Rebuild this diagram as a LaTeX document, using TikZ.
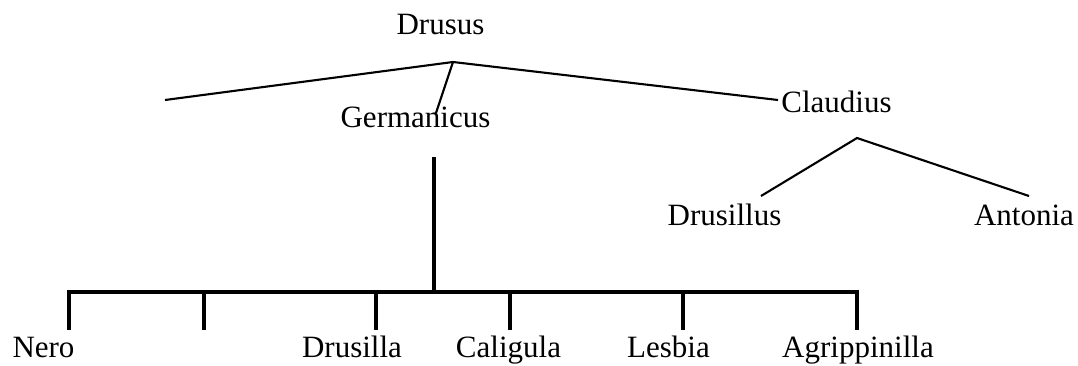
\documentclass[tikz,border=0pt]{standalone}
\usepackage{fontspec}
\setmainfont{Liberation Serif}
\begin{document}
\begin{tikzpicture}[x=1pt, y=-1pt,
  person/.style={anchor=base, inner sep=0pt, font=\fontsize{31}{36}\selectfont},
  thin link/.style={draw=black, line width=2.1pt},
  bracket/.style={draw=black, line width=3.3pt}]
\useasboundingbox (0,0) rectangle (1078,365);

% names
\node[person] (drusus) at (440.5,34) {Drusus};
\node[person] (germanicus) at (415.5,127) {Germanicus};
\node[person] (claudius) at (836.5,112) {Claudius};
\node[person] (drusillus) at (724.5,225) {Drusillus};
\node[person] (antonia) at (1024,225) {Antonia};
\node[person] (nero) at (43.5,357) {Nero};
\node[person] (drusilla) at (352,357) {Drusilla};
\node[person] (caligula) at (508.5,357) {Caligula};
\node[person] (lesbia) at (668.5,357) {Lesbia};
\node[person] (agrippinilla) at (858,357) {Agrippinilla};

% branch points
\coordinate (top) at (453,62);
\coordinate (leftend) at (165,100);
\coordinate (claudiusend) at (778,100);
\coordinate (germend) at (436,113);
\coordinate (capex) at (857,138);
\coordinate (cleft) at (761,196);
\coordinate (cright) at (1029,196);
\coordinate (gstem) at (434,157);
\coordinate (gbar) at (434,292);
\coordinate (b1) at (69,292);   \coordinate (t1) at (69,330);
\coordinate (b2) at (204,292);  \coordinate (t2) at (204,330);
\coordinate (b3) at (376,292);  \coordinate (t3) at (376,330);
\coordinate (b4) at (510,292);  \coordinate (t4) at (510,330);
\coordinate (b5) at (683,292);  \coordinate (t5) at (683,330);
\coordinate (b6) at (857,292);  \coordinate (t6) at (857,330);

% Drusus' branches
\draw[thin link] (leftend) -- (top) -- (claudiusend);
\draw[thin link] (top) -- (germend);

% Claudius' branches
\draw[thin link] (cleft) -- (capex) -- (cright);

% Germanicus' children
\draw[bracket] (gstem) -- (gbar);
\draw[bracket, line cap=rect] (b1) -- (b6);
\foreach \i in {1,...,6} {
  \draw[bracket] (b\i) -- (t\i);
}
\end{tikzpicture}
\end{document}
